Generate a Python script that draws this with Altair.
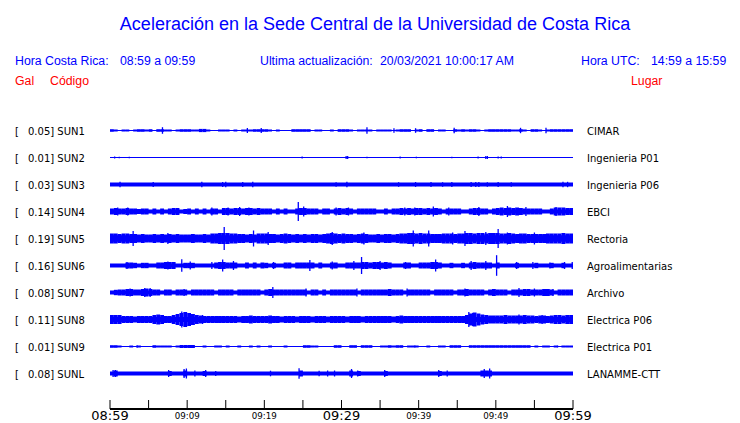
import altair as alt
import pandas as pd

CODES = ["SUN1", "SUN2", "SUN3", "SUN4", "SUN5", "SUN6", "SUN7", "SUN8", "SUN9", "SUNL"]
GAL = ["0.05", "0.01", "0.03", "0.14", "0.19", "0.16", "0.08", "0.11", "0.01", "0.08"]
PLACES = ["CIMAR", "Ingenieria P01", "Ingenieria P06", "EBCI", "Rectoria",
          "Agroalimentarias", "Archivo", "Electrica P06", "Electrica P01", "LANAMME-CTT"]

# steady background half-amplitude of each trace
BASE = [0.5, 0.5, 2.0, 2.0, 3.3, 1.9, 2.0, 2.5, 0.5, 2.0]

# envelope half-amplitude for each half-minute (120 bins), 0 = background only
ENV = {
    "SUN1": [1.3, 1, 0, 1, 1, 0, 1, 1.3, 1.3, 1,
             1.3, 0, 1.3, 1.3, 1, 1, 0, 1, 1.3, 1.3,
             1.3, 1, 1, 1.6, 1.6, 1, 0, 0, 1, 1,
             1, 0, 1, 0, 1, 1, 1, 1.3, 1.3, 1.3,
             1.3, 1, 0, 1, 0, 0, 0, 1.3, 1.3, 1.3,
             1.3, 1.3, 0, 1, 1, 0, 0, 1, 0, 1.3,
             1.3, 1.3, 1, 0, 1, 1, 1, 1, 0, 1,
             1, 1, 1, 0, 1, 1.3, 1.3, 1.3, 0, 1,
             1.3, 0, 1.3, 1.3, 0, 1, 1, 0, 0, 1.3,
             1, 1.3, 1, 1.3, 1.3, 1, 0, 1, 1.3, 1.3,
             1.3, 1.3, 1.3, 1.3, 1, 1, 1.3, 1, 0, 1.3,
             1.3, 1, 0, 1, 1.3, 1.3, 1.3, 1.3, 1.3, 1.3],
    "SUN4": [3, 3.5, 3, 3, 3.5, 3, 3, 2.5, 3, 3,
             0, 3, 0, 3, 0, 3, 3.5, 3.5, 0, 2.5,
             3, 0, 3, 0, 3, 0, 3, 3, 0, 3.5,
             3.5, 3, 3.5, 3.5, 3, 3.5, 3.5, 3, 3.5, 3,
             3, 3, 0, 3, 0, 3, 0, 0, 3, 3.5,
             3.5, 3, 3, 3, 0, 3, 3, 0, 3, 3.5,
             3, 3.5, 3, 0, 3, 3, 3, 3, 3, 0,
             0, 3, 0, 3, 3, 3.5, 3, 3.5, 3, 3.5,
             3.5, 3, 3.5, 3, 3.5, 3, 0, 3, 3, 3,
             3, 0, 0, 3, 3.5, 3.5, 3, 3, 0, 3,
             3.5, 4, 3.5, 4, 3.5, 4, 3.5, 3, 3, 3,
             3, 3, 0, 0, 3, 4, 4, 4, 3.5, 3.5],
    "SUN5": [5, 5, 4.5, 5, 5, 4.5, 4.5, 4, 4.5, 4,
             4, 4.5, 4, 4.5, 4, 4.5, 4, 4.5, 4, 4,
             4, 4.5, 4, 4, 4.5, 4, 5, 5, 5.5, 5.5,
             5.5, 5, 5, 4.5, 4.5, 4, 4.5, 4, 5, 5,
             5, 4.5, 4.5, 4, 4.5, 5, 4.5, 4, 4.5, 4,
             4.5, 4, 4.5, 4.5, 4, 4.5, 5, 5.5, 5, 4.5,
             5, 4.5, 4.5, 4, 4.5, 5, 4.5, 4, 4, 4.5,
             4, 4.5, 4.5, 4, 4.5, 5, 5, 5.5, 5.5, 5,
             5.5, 5, 5, 4.5, 4.5, 4.5, 5, 5, 5, 4.5,
             5, 5, 5.5, 5.5, 5, 5.5, 5.5, 5, 5.5, 5.5,
             5.5, 5, 5, 5.5, 5, 4.5, 5, 5, 4.5, 4.5,
             4.5, 4.5, 4.5, 5, 5, 5, 5, 5.5, 5, 5],
    "SUN6": [0, 0, 0, 0, 3, 3, 2.7, 0, 2.7, 2.7,
             0, 0, 3, 3, 3.5, 3.5, 3.5, 0, 0, 2.7,
             2.7, 2.7, 0, 0, 0, 0, 0, 3, 3.5, 3.5,
             3, 3, 3, 0, 0, 3, 0, 3, 0, 3,
             2.7, 0, 2.7, 0, 0, 3, 3, 0, 3, 3,
             3, 3, 3, 0, 3, 0, 0, 3, 3, 0,
             0, 3, 3, 3, 3, 3.5, 3.5, 3, 3.5, 3.5,
             3, 3.5, 3, 0, 0, 0, 3, 3, 0, 0,
             3, 3, 3, 3.5, 3.5, 3, 0, 0, 2.7, 0,
             0, 2.7, 0, 3, 3.5, 3, 3, 3, 3, 0,
             3, 0, 0, 0, 0, 2.7, 0, 0, 0, 0,
             2.7, 0, 0, 0, 2.7, 0, 0, 2.7, 0, 0],
    "SUN7": [0, 2.7, 3, 3, 3.5, 3.5, 3, 3, 3.5, 4,
             3.5, 3, 3, 0, 3, 3, 0, 3, 3, 3,
             0, 3, 3, 3, 3, 3, 3, 0, 3, 3,
             3, 3, 0, 3, 3, 3, 3, 3, 3, 0,
             3, 3.5, 3, 3, 3, 3, 3, 3, 3, 3,
             3, 0, 3, 3, 0, 3, 0, 3, 3, 3,
             3, 3, 3, 3, 0, 3, 3, 3, 3, 3,
             3, 3, 3.5, 3, 3, 3, 0, 3, 3, 3,
             3, 3, 3, 0, 3, 3, 3, 3, 3, 0,
             3, 3, 3.5, 3, 3, 3, 3, 0, 3, 3.5,
             3, 3, 3, 0, 3, 3, 3, 3.5, 3.5, 3,
             3, 3, 3.5, 3.5, 3, 0, 3, 3, 3, 3],
    "SUN8": [4.5, 4.5, 4.5, 3.5, 3.5, 3.5, 3, 3.5, 3.5, 3.5,
             3.5, 4.5, 5, 4.5, 3.5, 3.5, 4.5, 5.5, 6.5, 7.5,
             6.5, 5.5, 4.5, 4, 3.5, 3.5, 3.5, 3.5, 3.5, 3.5,
             3.5, 3.5, 3.5, 3, 3.5, 3.5, 4, 3.5, 3.5, 3.5,
             3.5, 4, 3.5, 3.5, 3, 3.5, 3.5, 3.5, 3, 3.5,
             3.5, 3.5, 3, 3.5, 3.5, 3.5, 3, 3.5, 3.5, 3.5,
             3.5, 3, 3.5, 3.5, 3.5, 3, 3.5, 3.5, 3.5, 3.5,
             3.5, 3.5, 3.5, 3, 3.5, 4, 3.5, 3.5, 3.5, 3.5,
             3.5, 3.5, 3.5, 3.5, 3.5, 3.5, 3.5, 3.5, 3.5, 3.5,
             3.5, 3.5, 4.5, 6, 7, 6, 5, 4.5, 4, 4,
             4, 4, 4.5, 4, 4, 4, 4, 4.5, 4, 4,
             3.5, 4, 4, 3.5, 4, 4.5, 4.5, 4, 4.5, 4.5],
    "SUN9": [1.3, 1.3, 1, 0, 0, 1, 0, 1, 0, 0,
             0, 1.3, 1, 1, 1, 1, 0, 1, 1.5, 1.5,
             1.5, 1.5, 0, 0, 1, 0, 0, 1, 1, 0,
             1, 0, 0, 1, 0, 0, 1, 0, 1, 0,
             0, 1, 0, 0, 0, 1, 0, 0, 0, 0,
             1.3, 1.3, 1, 1, 0, 0, 0, 0, 1.3, 1.3,
             0, 0, 1.3, 1.3, 0, 1.3, 1.3, 1.3, 0, 0,
             1, 1, 1.3, 1, 1.3, 1.3, 0, 1, 1, 1,
             0, 0, 1, 0, 0, 1, 1, 0, 1.3, 1.3,
             1.3, 0, 0, 1.3, 1.3, 1.3, 1.3, 1.3, 1.3, 1.3,
             1.3, 1.3, 1.3, 1.3, 1.3, 1.3, 1.3, 1.3, 1.3, 0,
             1, 0, 1, 1, 0, 1, 0, 1, 1, 1],
    "SUNL": [0, 3, 0, 0, 0, 0, 0, 0, 0, 0,
             0, 0, 0, 0, 0, 2.5, 0, 0, 0, 3,
             0, 0, 0, 0, 2.5, 0, 0, 0, 0, 0,
             0, 0, 0, 0, 0, 0, 0, 0, 0, 0,
             0, 0, 0, 0, 0, 0, 0, 0, 0, 3,
             0, 0, 0, 0, 0, 0, 0, 0, 0, 0,
             0, 0, 3, 0, 2.5, 0, 0, 0, 0, 0,
             0, 2.5, 0, 0, 0, 0, 0, 0, 0, 0,
             0, 0, 0, 0, 0, 2.5, 0, 0, 0, 0,
             0, 0, 0, 0, 0, 0, 3, 3, 3, 0,
             0, 0, 0, 0, 0, 0, 0, 0, 0, 0,
             0, 0, 0, 0, 0, 0, 0, 0, 0, 0],
}

# isolated spikes: (minutes after 08:59, half-amplitude)
SPIKES = {
    "SUN1": [(6.8, 3.3), (17.8, 2.5), (19.6, 2.5), (33.3, 3.3), (36.8, 2.3), (39.6, 2.3),
             (44.6, 2.7), (53.2, 2.7), (56.5, 2.7)],
    "SUN2": [(0.6, 1), (1.2, 0.8), (2.5, 0.8), (24.9, 1), (30.6, 1.5), (30.8, 1.5), (33.3, 0.8),
             (37.6, 1), (39.7, 0.8), (44.3, 0.8), (47.7, 1), (48.7, 1.5), (48.9, 1.5),
             (50.3, 1), (50.7, 1)],
    "SUN3": [(1.3, 2.7), (5.6, 2.5), (11.9, 2.7), (14.6, 2.5), (15.0, 2.7), (17.2, 2.5),
             (18.5, 2.7), (29.3, 2.3), (30.7, 2.8), (37.4, 2.3), (39.6, 2.5), (41.6, 2.5),
             (43.1, 2.3), (44.3, 2.5), (46.8, 2.5), (47.4, 2.5), (47.8, 2.5), (48.9, 2.3),
             (50.3, 2.5), (52.0, 2.3), (58.7, 2.7), (59.3, 2.7)],
    "SUN4": [(1.0, 4), (2.3, 4), (13.2, 4), (15.3, 4), (16.8, 4.5), (18.0, 4), (24.4, 9.5),
             (25.1, 5), (29.3, 4), (30.9, 4), (38.2, 4), (39.5, 4), (41.9, 5), (43.9, 4),
             (47.8, 4.5), (51.5, 5.5), (53.9, 4.5), (57.8, 4.5)],
    "SUN5": [(3.0, 7.5), (7.5, 5.5), (14.8, 11.5), (18.6, 8), (20.5, 6.5), (28.8, 6.5),
             (32.9, 6), (39.3, 8), (41.3, 8), (44.4, 6), (46.0, 7.5), (48.7, 6.5), (50.3, 9.5),
             (51.5, 6), (55.0, 6)],
    "SUN6": [(2.2, 3.5), (7.5, 4), (9.3, 6.3), (10.4, 4), (13.2, 3.5), (14.6, 6), (16.0, 4.5),
             (21.2, 3.5), (25.9, 5.5), (28.8, 4), (31.6, 4.5), (32.6, 8.5), (35.0, 4.5),
             (38.3, 3.5), (42.2, 6), (46.8, 4.5), (48.7, 4.5), (50.1, 10.3), (52.7, 3.5),
             (54.8, 3.5), (57.0, 3), (58.9, 3.5), (59.9, 3.5)],
    "SUN7": [(2.6, 4), (4.5, 4.5), (5.2, 4.5), (9.6, 3.5), (21.1, 5.5), (25.4, 4), (32.0, 4),
             (38.5, 4), (46.0, 4), (53.0, 4.5), (55.0, 4), (57.4, 3.5)],
    "SUN8": [(5.8, 4.5), (9.3, 8), (9.7, 7.5), (12.0, 4.5), (46.5, 7.5), (47.0, 6.5),
             (53.0, 5), (56.0, 4.5)],
    "SUN9": [(3.5, 1.2), (39.5, 1), (58.0, 1)],
    "SUNL": [(0.4, 3.5), (0.7, 3.5), (7.6, 3.5), (9.6, 4.5), (9.9, 5), (11.0, 3), (12.4, 3.5),
             (13.7, 2.5), (20.8, 2.8), (24.5, 5.3), (27.1, 2.8), (28.2, 3), (29.1, 3),
             (31.3, 4.5), (32.1, 3), (35.6, 3.5), (42.6, 3.5), (43.7, 3), (48.5, 4.5),
             (49.2, 5)],
}

TICK_MIN = [0, 5, 10, 15, 20, 25, 30, 35, 40, 45, 50, 55, 60]
BIG_TICKS = [0, 30, 60]
BIG_LABELS = ["08:59", "09:29", "09:59"]
SMALL_TICKS = [10, 20, 40, 50]
SMALL_LABELS = ["09:09", "09:19", "09:39", "09:49"]

BLUE = "#0000ff"
RED = "#ff0000"
LANE = 27          # vertical spacing between traces
W, H = 463, 306

# ---------- tables ----------
base_rows, env_rows, spike_rows, lane_rows = [], [], [], []
for i, code in enumerate(CODES):
    c = i * LANE
    base_rows.append({"x": 0, "x2": 60, "y": c - BASE[i], "y2": c + BASE[i]})
    for k, a in enumerate(ENV.get(code, [])):
        if a > BASE[i]:
            env_rows.append({"x": k * 0.5, "x2": (k + 1) * 0.5, "y": c - a, "y2": c + a})
    for t, a in SPIKES[code]:
        spike_rows.append({"x": t, "y": c - a, "y2": c + a})
    lane_rows.append({"c": c, "left": f"{GAL[i]}] {code}", "place": PLACES[i]})

base_df = pd.DataFrame(base_rows)
env_df = pd.DataFrame(env_rows)
spike_df = pd.DataFrame(spike_rows)
lane_df = pd.DataFrame(lane_rows)
tick_df = pd.DataFrame({"x": TICK_MIN})
big_df = pd.DataFrame({"x": BIG_TICKS, "t": BIG_LABELS})
small_df = pd.DataFrame({"x": SMALL_TICKS, "t": SMALL_LABELS})

xs = alt.Scale(domain=[0, 60], nice=False, zero=False)
ys = alt.Scale(domain=[-LANE - 0.5, 10 * LANE + 8.5], nice=False, zero=False, reverse=True)
X = lambda f: alt.X(f"{f}:Q", scale=xs, axis=None)
Y = lambda f: alt.Y(f"{f}:Q", scale=ys, axis=None)

base = alt.Chart(base_df).mark_rect(color=BLUE, strokeWidth=0).encode(
    x=X("x"), x2="x2:Q", y=Y("y"), y2="y2:Q")
env = alt.Chart(env_df).mark_rect(color=BLUE, strokeWidth=0).encode(
    x=X("x"), x2="x2:Q", y=Y("y"), y2="y2:Q")
spikes = alt.Chart(spike_df).mark_rule(color=BLUE, strokeWidth=1.3).encode(
    x=X("x"), y=Y("y"), y2="y2:Q")

ticks = alt.Chart(tick_df).mark_rule(color="black", strokeWidth=1).encode(
    x=X("x"), y=alt.value(H - 9), y2=alt.value(H))
axis_line = alt.Chart(tick_df).mark_rule(color="black", strokeWidth=1).encode(
    x=alt.value(0), x2=alt.value(W), y=alt.value(H))
big_lbl = alt.Chart(big_df).mark_text(font="DejaVu Sans", fontSize=13, baseline="middle",
                                      color="black").encode(
    x=X("x"), y=alt.value(H + 7), text="t:N")
small_lbl = alt.Chart(small_df).mark_text(font="DejaVu Sans", fontSize=8.7, baseline="middle",
                                          color="black").encode(
    x=X("x"), y=alt.value(H + 7), text="t:N")

bracket = alt.Chart(lane_df).mark_text(font="DejaVu Sans", fontSize=10, align="left",
                                       baseline="middle", dy=1, color="black").encode(
    x=alt.value(-95), y=Y("c"), text=alt.value("["))
left_lbl = alt.Chart(lane_df).mark_text(font="DejaVu Sans", fontSize=10, align="left",
                                        baseline="middle", dy=1, color="black").encode(
    x=alt.value(-82), y=Y("c"), text="left:N")
right_lbl = alt.Chart(lane_df).mark_text(font="DejaVu Sans", fontSize=10, align="left",
                                         baseline="middle", dy=1, color="black").encode(
    x=alt.value(477), y=Y("c"), text="place:N")


def label(text, x, y, size, color, align="left"):
    return alt.Chart(pd.DataFrame({"t": [text]})).mark_text(
        font="Liberation Sans", fontSize=size, align=align, baseline="alphabetic", color=color
    ).encode(x=alt.value(x), y=alt.value(y), text="t:N")


headers = [
    label("Aceleración en la Sede Central de la Universidad de Costa Rica", 265, -73, 18, BLUE, "center"),
    label("Hora Costa Rica:", -95, -38, 12.3, BLUE),
    label("08:59 a 09:59", 10, -38, 12.3, BLUE),
    label("Ultima actualización:", 150, -38, 12.3, BLUE),
    label("20/03/2021 10:00:17 AM", 270, -38, 12.3, BLUE),
    label("Hora UTC:", 471, -38, 12.3, BLUE),
    label("14:59 a 15:59", 541, -38, 12.3, BLUE),
    label("Gal", -95, -18, 12.3, RED),
    label("Código", -60, -18, 12.3, RED),
    label("Lugar", 521, -18, 12.3, RED),
]

chart = alt.layer(
    base, env, spikes, ticks, axis_line, big_lbl, small_lbl, bracket, left_lbl, right_lbl, *headers
).properties(
    width=W, height=H,
    autosize=alt.AutoSizeParams(type="none"),
    padding={"left": 102, "top": 95, "right": 159, "bottom": 20},
    background="white",
).configure_view(stroke=None)

chart.save("out.html", embed_options={"renderer": "svg", "actions": False})
